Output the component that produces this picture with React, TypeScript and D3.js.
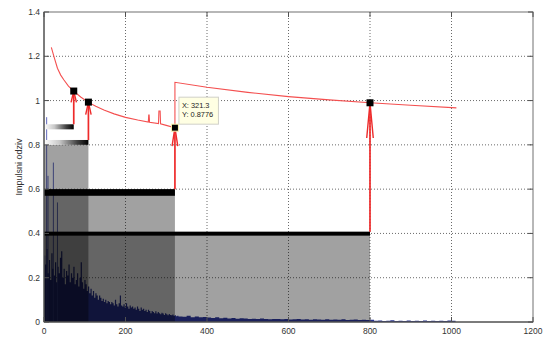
import React from "react";
import * as d3 from "d3";

const W = 543;
const H = 338;

const X_TICKS = [0, 200, 400, 600, 800, 1000, 1200];
const X_LABELS = ["0", "200", "400", "600", "800", "1000", "1200"];
const Y_TICKS = [0, 0.2, 0.4, 0.6, 0.8, 1, 1.2, 1.4];
const Y_LABELS = ["0", "0.2", "0.4", "0.6", "0.8", "1", "1.2", "1.4"];
const Y_TITLE = "Impulsni odziv";

// red energy-decay curve, first segment (up to the datatip) and second segment
const curveX1 = [18, 25, 33, 41, 49, 60, 73, 90, 108, 127, 147, 172, 200, 230, 256, 257, 258, 259, 281, 282, 285, 286, 300, 321.3];
const curveY1 = [1.24, 1.195, 1.146, 1.115, 1.093, 1.065, 1.043, 1.016, 0.993, 0.974, 0.957, 0.94, 0.924, 0.912, 0.903, 0.935, 0.935, 0.902, 0.896, 0.953, 0.953, 0.895, 0.888, 0.8776];
const curveX2 = [321.3, 400, 500, 600, 700, 800, 900, 1012];
const curveY2 = [1.0825, 1.06, 1.037, 1.018, 1.003, 0.99, 0.979, 0.967];

// picked points, arrows and bars
const peakX = [73, 109, 321.3, 800];
const peakY = [1.043, 0.993, 0.8776, 0.99];
const barTop = [0.893, 0.822, 0.6, 0.408];
const barBottom = [0.87, 0.8, 0.57, 0.39];
const barGradient = [true, true, false, false];
const shadeTop = [0, 0.8, 0.6, 0.4]; // 0 = no shaded rectangle

// impulse response magnitude: step 3 up to 330, then step 10 up to 1010
const impulseEarly = [
  0.30, 0.26, 0.33, 0.22,
  0.28, 0.19, 0.31, 0.24, 0.21, 0.27, 0.18, 0.25, 0.22, 0.29,
  0.32, 0.20, 0.24, 0.17, 0.23, 0.21, 0.26, 0.18, 0.22, 0.20,
  0.25, 0.17, 0.19, 0.22, 0.16, 0.20, 0.27, 0.18, 0.15, 0.19,
  0.17, 0.14, 0.16, 0.13, 0.15, 0.12, 0.14, 0.11, 0.13, 0.12,
  0.10, 0.12, 0.11, 0.095, 0.105, 0.09, 0.10, 0.085, 0.095, 0.09,
  0.08, 0.09, 0.085, 0.075, 0.10, 0.08, 0.07, 0.085, 0.12, 0.075,
  0.07, 0.08, 0.065, 0.085, 0.07, 0.06, 0.075, 0.065, 0.07, 0.06,
  0.065, 0.055, 0.07, 0.06, 0.05, 0.065, 0.055, 0.06, 0.05, 0.055,
  0.045, 0.055, 0.05, 0.04, 0.05, 0.045, 0.04, 0.048, 0.038, 0.045,
  0.04, 0.035, 0.042, 0.038, 0.032, 0.04, 0.035, 0.03, 0.036, 0.032,
  0.03, 0.034, 0.028, 0.03, 0.026, 0.028, 0.025,
];
const impulseLate = [
  0.024, 0.028, 0.022, 0.025, 0.021, 0.023, 0.02,
  0.018, 0.021, 0.017, 0.019, 0.016, 0.018, 0.015, 0.017, 0.016, 0.014,
  0.015, 0.013, 0.016, 0.014, 0.012, 0.014, 0.013, 0.012, 0.014, 0.011,
  0.012, 0.013, 0.011, 0.012, 0.01, 0.012, 0.011, 0.01, 0.012, 0.01,
  0.011, 0.01, 0.012, 0.009, 0.01, 0.011, 0.009, 0.01, 0.009, 0.01,
  0.006, 0.007, 0.005, 0.006, 0.008, 0.005, 0.006, 0.005, 0.007, 0.005,
  0.006, 0.005, 0.007, 0.005, 0.006, 0.005, 0.006, 0.005, 0.007, 0.006, 0.005,
];
const spikeX = [6.5, 9.8, 23, 33];
const spikeY = [0.925, 0.66, 0.72, 0.54];

const TIP_LINES = ["X: 321.3", "Y: 0.8776"];

const FONT = "'Liberation Sans', Arial, sans-serif";

export default function App() {
  const x = d3.scaleLinear().domain([0, 1200]).range([44, 533]);
  const y = d3.scaleLinear().domain([0, 1.4]).range([322, 12]);
  const [x0, x1] = x.range();
  const [yb, yt] = y.range();

  const impulse: [number, number][] = [
    ...impulseEarly.map((v, i) => [i * 3, v] as [number, number]),
    ...impulseLate.map((v, i) => [340 + i * 10, v] as [number, number]),
  ];
  const area = d3
    .area<[number, number]>()
    .x((d) => x(d[0]))
    .y0(y(0))
    .y1((d) => y(d[1]))
    .curve(d3.curveStepAfter);

  const curvePts: [number, number][] = [
    ...curveX1.map((v, i) => [v, curveY1[i]] as [number, number]),
    ...curveX2.map((v, i) => [v, curveY2[i]] as [number, number]),
  ];
  const line = d3
    .line<[number, number]>()
    .x((d) => x(d[0]))
    .y((d) => y(d[1]));

  const gridDash = "1 2";
  const tipX = x(peakX[2]) + 4;
  const tipY = y(peakY[2]) - 30.5;
  const ms = 7;

  return (
    <svg
      width={W}
      height={H}
      style={{ position: "fixed", left: 0, top: 0, background: "#fff" }}
      fontFamily={FONT}
    >
      <defs>
        <linearGradient id="gbar" x1="0" x2="1" y1="0" y2="0">
          <stop offset="0" stopColor="#ffffff" />
          <stop offset="0.35" stopColor="#c8c8c8" />
          <stop offset="0.75" stopColor="#404040" />
          <stop offset="1" stopColor="#000000" />
        </linearGradient>
      </defs>
      <rect x={0} y={0} width={W} height={H} fill="#fff" />

      {/* grid */}
      {X_TICKS.slice(1, -1).map((t) => (
        <line key={"gx" + t} x1={x(t)} x2={x(t)} y1={yt} y2={yb} stroke="#6a6a6a" strokeWidth={1} strokeDasharray={gridDash} />
      ))}
      {Y_TICKS.slice(1, -1).map((t) => (
        <line key={"gy" + t} x1={x0} x2={x1} y1={y(t)} y2={y(t)} stroke="#6a6a6a" strokeWidth={1} strokeDasharray={gridDash} />
      ))}

      {/* impulse response */}
      <path d={area(impulse) || ""} fill="#2a3492" />
      {spikeX.map((s, i) => (
        <line key={"sp" + i} x1={x(s)} x2={x(s)} y1={y(0)} y2={y(spikeY[i])} stroke="#4650b0" strokeWidth={1} opacity={0.85} />
      ))}

      {/* shaded translucent regions */}
      {peakX.map((p, i) =>
        shadeTop[i] > 0 ? (
          <rect key={"sh" + i} x={x(0)} y={y(shadeTop[i])} width={x(p) - x(0)} height={y(0) - y(shadeTop[i])} fill="#000" fillOpacity={0.37} />
        ) : null
      )}

      {/* red curve */}
      <path d={line(curvePts) || ""} fill="none" stroke="#f45050" strokeWidth={1.1} />

      {/* bars */}
      {peakX.map((p, i) => (
        <rect
          key={"bar" + i}
          x={x(0)}
          y={y(barTop[i])}
          width={x(p) - x(0)}
          height={y(barBottom[i]) - y(barTop[i])}
          fill={barGradient[i] ? "url(#gbar)" : "#000"}
        />
      ))}

      {/* arrows */}
      {peakX.map((p, i) => {
        const ax = x(p);
        const ys = y(barTop[i]);
        const ye = y(peakY[i]);
        const L = ys - ye;
        const hl = 0.25 * L + 3;
        const hw = 2.5 + 0.006 * L;
        return (
          <g key={"ar" + i} stroke="#ee2a2a" fill="none" strokeWidth={1.7}>
            <line x1={ax} x2={ax} y1={ys} y2={ye} />
            <path d={`M${ax - hw},${ye + hl} L${ax},${ye} L${ax + hw},${ye + hl}`} strokeWidth={1.4} />
          </g>
        );
      })}

      {/* markers */}
      {peakX.map((p, i) => (
        <rect
          key={"mk" + i}
          x={x(p) - ms / 2}
          y={y(peakY[i]) - ms / 2}
          width={ms}
          height={ms}
          fill="#000"
          stroke={i === 2 ? "#fff5b0" : "none"}
          strokeWidth={1}
        />
      ))}

      {/* datatip */}
      <rect x={tipX} y={tipY} width={39.5} height={27} fill="#ffffe3" stroke="#d0d0c8" strokeWidth={1} />
      {TIP_LINES.map((t, i) => (
        <text key={"tt" + i} x={tipX + 3} y={tipY + 10.5 + i * 9.2} fontSize={7.4} fill="#222">
          {t}
        </text>
      ))}

      {/* axes box */}
      <rect x={x0} y={yt} width={x1 - x0} height={yb - yt} fill="none" stroke="#707070" strokeWidth={1} />
      <line x1={x0} x2={x0} y1={yt} y2={yb} stroke="#404040" strokeWidth={1} />
      <line x1={x0} x2={x1} y1={yb} y2={yb} stroke="#404040" strokeWidth={1} />

      {/* ticks */}
      {X_TICKS.map((t) => (
        <g key={"tx" + t} stroke="#505050" strokeWidth={1}>
          <line x1={x(t)} x2={x(t)} y1={yb} y2={yb - 5} />
          <line x1={x(t)} x2={x(t)} y1={yt} y2={yt + 5} />
        </g>
      ))}
      {Y_TICKS.map((t) => (
        <g key={"ty" + t} stroke="#505050" strokeWidth={1}>
          <line x1={x0} x2={x0 + 5} y1={y(t)} y2={y(t)} />
          <line x1={x1} x2={x1 - 5} y1={y(t)} y2={y(t)} />
        </g>
      ))}

      {/* tick labels */}
      {X_TICKS.map((t, i) => (
        <text key={"lx" + t} x={x(t)} y={yb + 11.5} fontSize={8.5} textAnchor="middle" fill="#333">
          {X_LABELS[i]}
        </text>
      ))}
      {Y_TICKS.map((t, i) => (
        <text key={"ly" + t} x={x0 - 4} y={y(t) + 3} fontSize={8.5} textAnchor="end" fill="#333">
          {Y_LABELS[i]}
        </text>
      ))}

      <text
        transform={`translate(21.5,${(yt + yb) / 2}) rotate(-90)`}
        fontSize={9}
        textAnchor="middle"
        fill="#333"
      >
        {Y_TITLE}
      </text>
    </svg>
  );
}
